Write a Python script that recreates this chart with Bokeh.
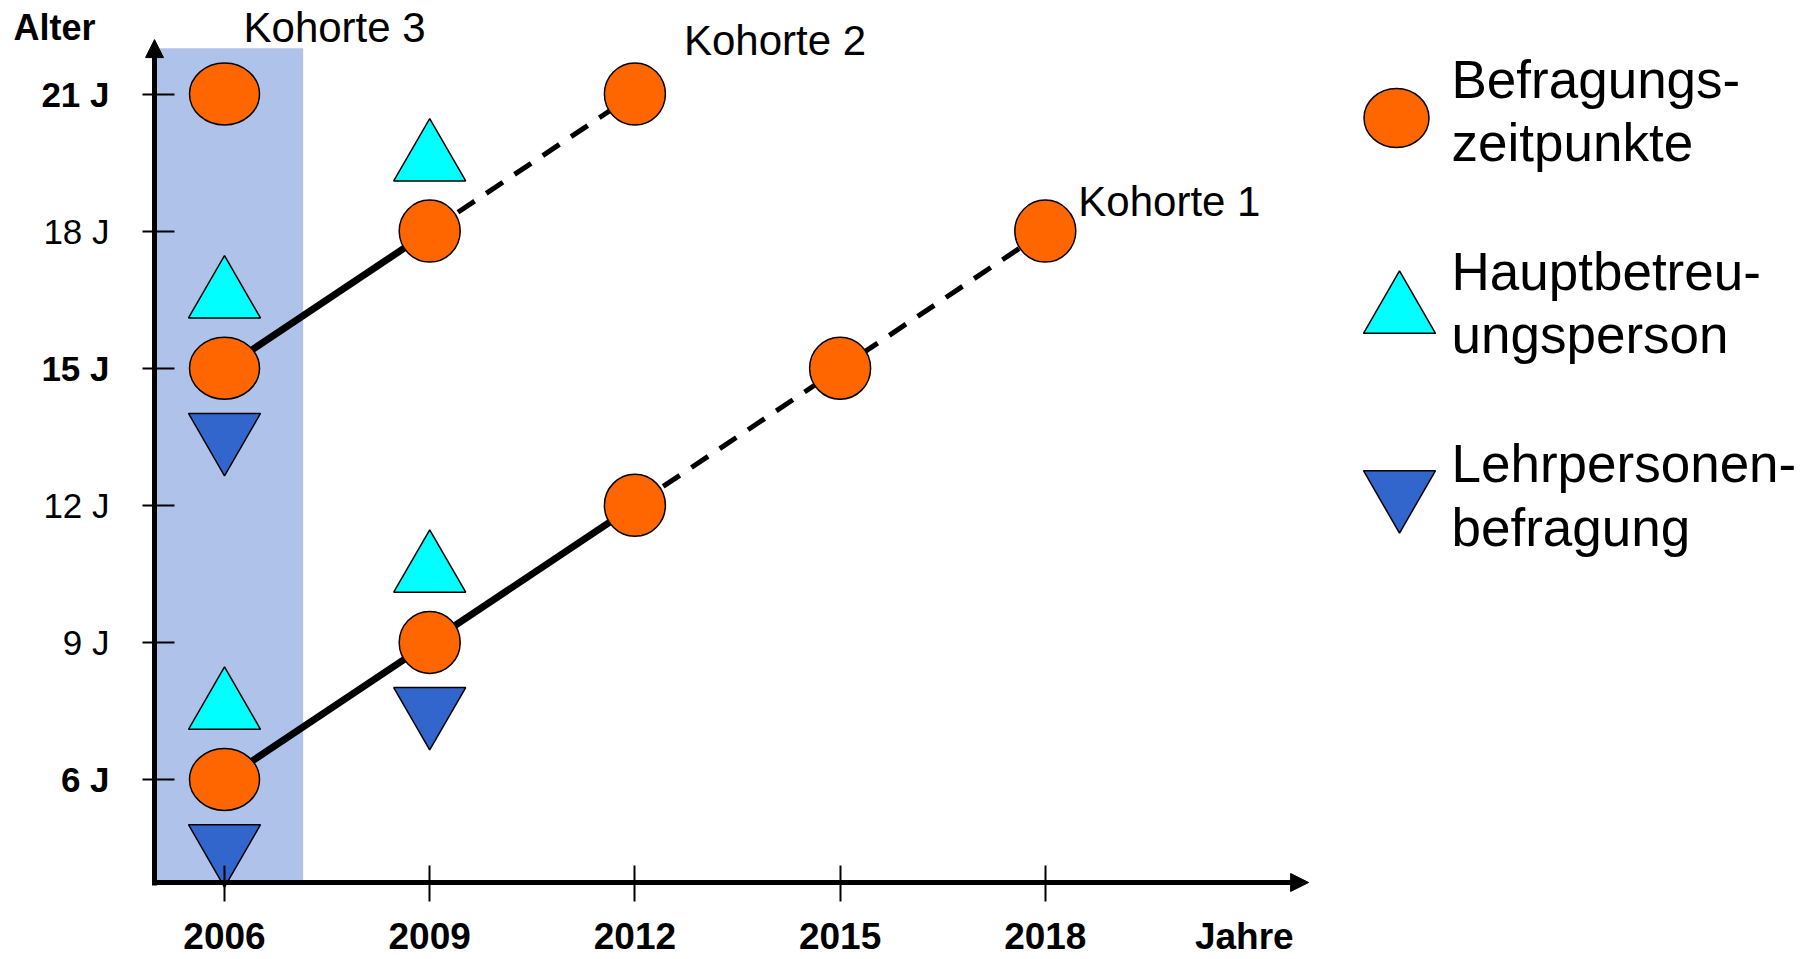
from bokeh.plotting import figure
from bokeh.models import (Range1d, LinearAxis, FixedTicker, CustomJSTickFormatter,
                          Arrow, NormalHead, Label, ColumnDataSource)
from bokeh.embed import file_html
from bokeh.resources import INLINE

# ---------------- data ----------------
year_ticks = [2006, 2009, 2012, 2015, 2018]
age_ticks_bold = [6, 15, 21]        # Alter der Befragten 2006 (fett)
age_ticks_regular = [9, 12, 18]

kohorte1_years = [2006, 2009, 2012, 2015, 2018]
kohorte1_ages = [6, 9, 12, 15, 18]
kohorte1_solid_until = 2012

kohorte2_years = [2006, 2009, 2012]
kohorte2_ages = [15, 18, 21]
kohorte2_solid_until = 2009

kohorte3_years = [2006]
kohorte3_ages = [21]

haupt_years = [2006, 2009, 2006, 2009]     # Hauptbetreuungsperson
haupt_ages = [6, 9, 15, 18]

lehr_years = [2006, 2009, 2006]            # Lehrpersonenbefragung
lehr_ages = [6, 9, 15]

band_year_end = 2007.15                    # Kohorte-3-Querschnitt
band_age_top = 22.0

legend_labels = [["Befragungs-", "zeitpunkte"],
                 ["Hauptbetreu-", "ungsperson"],
                 ["Lehrpersonen-", "befragung"]]

# ---------------- layout ----------------
W, H = 1810, 959
X_RANGE = (2002.7251, 2029.1871)
Y_RANGE = (2.0613, 23.0460)
X_ORIGIN = 2004.977
Y_ORIGIN = 3.746
X_TIP = 2021.85
Y_TIP = 22.19

PX_X = W / (X_RANGE[1] - X_RANGE[0])
PX_Y = H / (Y_RANGE[1] - Y_RANGE[0])
BASE_SHIFT = 0.35   # label anchor vs. baseline, in em


def win_x(wx):
    return X_RANGE[0] + wx / PX_X


def win_y(wy):
    return Y_RANGE[1] - wy / PX_Y


FONT = "Liberation Sans"
ORANGE = "#FF6600"
CYAN = "#00FFFF"
BLUE = "#3366CC"
BAND = "#AFC3EA"
HEAD = 18

p = figure(width=W, height=H, x_range=Range1d(*X_RANGE), y_range=Range1d(*Y_RANGE),
           x_axis_type=None, y_axis_type=None, toolbar_location=None,
           output_backend="svg", min_border=0, outline_line_color=None,
           background_fill_color="white", border_fill_color="white")
p.min_border_left = p.min_border_right = p.min_border_top = p.min_border_bottom = 0

# band (Kohorte 3)
p.quad(left=X_ORIGIN, right=band_year_end, bottom=Y_ORIGIN, top=band_age_top,
       fill_color=BAND, line_color=None)

# cohort lines
for yrs, ags, until in [(kohorte1_years, kohorte1_ages, kohorte1_solid_until),
                        (kohorte2_years, kohorte2_ages, kohorte2_solid_until)]:
    sx = [y for y in yrs if y <= until]
    sy = [a for y, a in zip(yrs, ags) if y <= until]
    dx_ = [y for y in yrs if y >= until]
    dy_ = [a for y, a in zip(yrs, ags) if y >= until]
    p.line(sx, sy, line_width=7, line_color="black")
    p.line(dx_, dy_, line_width=5, line_color="black", line_dash="20 14")

# survey circles
cx = kohorte1_years + kohorte2_years + kohorte3_years
cy = kohorte1_ages + kohorte2_ages + kohorte3_ages
csrc = ColumnDataSource(dict(x=cx, y=cy,
                             w=[70 if x == 2006 else 61 for x in cx],
                             h=[62 for x in cx]))
p.ellipse(x="x", y="y", width="w", height="h", width_units="screen",
          height_units="screen", source=csrc, fill_color=ORANGE,
          line_color="black", line_width=1.5)

# triangles (drawn just above / below the survey circle)
TRI = 72
p.scatter(haupt_years, [a + 71 / PX_Y for a in haupt_ages], marker="triangle",
          size=TRI, fill_color=CYAN, line_color="black", line_width=1.5)
p.scatter(lehr_years, [a - 66 / PX_Y for a in lehr_ages], marker="inverted_triangle",
          size=TRI, fill_color=BLUE, line_color="black", line_width=1.5)

# axes
d0x = 2.5 / PX_X
d0y = 2.5 / PX_Y
xaxis = LinearAxis(fixed_location=Y_ORIGIN, bounds=(X_ORIGIN - d0x, X_TIP - HEAD / PX_X),
                   ticker=FixedTicker(ticks=year_ticks),
                   formatter=CustomJSTickFormatter(code="return tick.toFixed(0)"))
p.add_layout(xaxis, "below")

yaxis_b = LinearAxis(fixed_location=X_ORIGIN, bounds=(Y_ORIGIN - d0y, Y_TIP - HEAD / PX_Y),
                     ticker=FixedTicker(ticks=age_ticks_bold),
                     formatter=CustomJSTickFormatter(code="return tick + ' J'"))
yaxis_r = LinearAxis(fixed_location=X_ORIGIN, bounds=(Y_ORIGIN - d0y, Y_TIP - HEAD / PX_Y),
                     ticker=FixedTicker(ticks=age_ticks_regular),
                     formatter=CustomJSTickFormatter(code="return tick + ' J'"))
p.add_layout(yaxis_b, "left")
p.add_layout(yaxis_r, "left")

for ax in (xaxis, yaxis_b, yaxis_r):
    ax.axis_line_width = 5
    ax.axis_line_color = "black"
    ax.major_tick_line_width = 2
    ax.major_tick_line_color = "black"
    ax.minor_tick_line_color = None
    ax.major_label_text_font = FONT
    ax.major_label_text_color = "black"

xaxis.major_tick_in = 17
xaxis.major_tick_out = 19
xaxis.major_label_text_font_size = "37px"
xaxis.major_label_text_font_style = "bold"
xaxis.major_label_standoff = 21

for ax in (yaxis_b, yaxis_r):
    ax.major_tick_in = 20
    ax.major_tick_out = 12
    ax.major_label_text_font_size = "35px"
    ax.major_label_standoff = 33
yaxis_b.major_label_text_font_style = "bold"
yaxis_r.major_label_text_font_style = "normal"
yaxis_r.axis_line_color = None

# arrow heads
p.add_layout(Arrow(end=NormalHead(size=HEAD, fill_color="black", line_color="black", line_width=1),
                   x_start=X_TIP - HEAD / PX_X, y_start=Y_ORIGIN, x_end=X_TIP, y_end=Y_ORIGIN,
                   line_width=5, line_color="black"))
p.add_layout(Arrow(end=NormalHead(size=HEAD, fill_color="black", line_color="black", line_width=1),
                   x_start=X_ORIGIN, y_start=Y_TIP - HEAD / PX_Y, x_end=X_ORIGIN, y_end=Y_TIP,
                   line_width=5, line_color="black"))

# axis titles
p.add_layout(Label(x=X_ORIGIN, y=Y_TIP, x_offset=-59, y_offset=BASE_SHIFT * 36, text="Alter",
                   text_align="right", text_baseline="alphabetic", text_font=FONT,
                   text_font_size="36px", text_font_style="bold", text_color="black"))
p.add_layout(Label(x=X_TIP, y=Y_ORIGIN, x_offset=-15, y_offset=-67 + BASE_SHIFT * 37, text="Jahre",
                   text_align="right", text_baseline="alphabetic", text_font=FONT,
                   text_font_size="37px", text_font_style="bold", text_color="black"))

# cohort labels
for txt, xx, yy, ox, oy in [("Kohorte 1", kohorte1_years[-1], kohorte1_ages[-1], 33, 15),
                            ("Kohorte 2", kohorte2_years[-1], kohorte2_ages[-1], 49, 39),
                            ("Kohorte 3", kohorte3_years[-1], kohorte3_ages[-1], 19, 52)]:
    p.add_layout(Label(x=xx, y=yy, x_offset=ox, y_offset=oy + BASE_SHIFT * 42, text=txt,
                       text_align="left", text_baseline="alphabetic", text_font=FONT,
                       text_font_size="42px", text_color="black"))

# legend (manual)
p.ellipse(x=[win_x(1396)], y=[win_y(117.5)], width=65, height=59, width_units="screen",
          height_units="screen", fill_color=ORANGE, line_color="black", line_width=1.5)
p.scatter([win_x(1399)], [win_y(312)], marker="triangle", size=TRI,
          fill_color=CYAN, line_color="black", line_width=1.5)
p.scatter([win_x(1399)], [win_y(491)], marker="inverted_triangle", size=TRI,
          fill_color=BLUE, line_color="black", line_width=1.5)

LEG_FS = 53
row_baselines = [(98, 161), (290, 353), (482, 546)]
for (l1, l2), (b1, b2) in zip(legend_labels, row_baselines):
    for t, b in ((l1, b1), (l2, b2)):
        p.add_layout(Label(x=win_x(1451), y=win_y(b - BASE_SHIFT * LEG_FS), text=t,
                           text_align="left", text_baseline="alphabetic", text_font=FONT,
                           text_font_size=f"{LEG_FS}px", text_color="black"))

open("out.html", "w").write(file_html(p, INLINE))
